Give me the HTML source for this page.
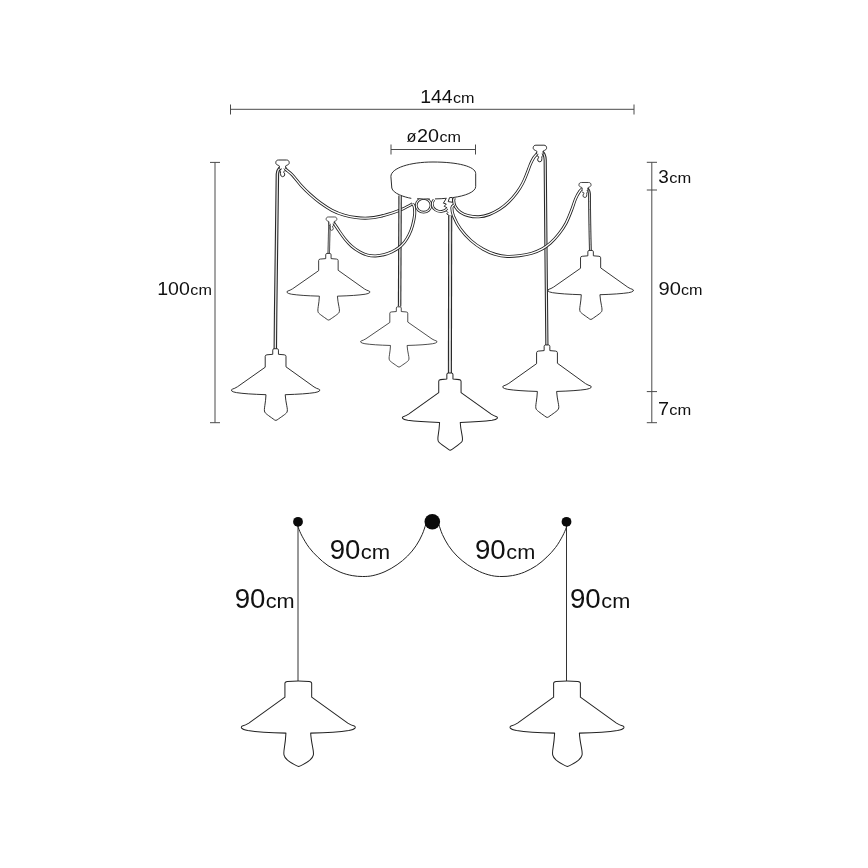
<!DOCTYPE html>
<html>
<head>
<meta charset="utf-8">
<title>Lamp dimensions</title>
<style>
html,body{margin:0;padding:0;background:#fff;}
body{width:868px;height:868px;overflow:hidden;font-family:"Liberation Sans",sans-serif;}
svg{display:block;position:absolute;left:0;top:0;will-change:transform;}
.dim{stroke:#4a4a4a;stroke-width:1;fill:none;}
.ln{stroke:#222;stroke-width:0.95;fill:#fff;stroke-linejoin:round;stroke-linecap:round;}
.co{stroke:#222;stroke-width:3.0;fill:none;stroke-linecap:butt;}
.co2{stroke:#222;stroke-width:2.7;fill:none;}
.ci2{stroke:#fff;stroke-width:1.1;fill:none;}
.cov{stroke:#2a2a2a;stroke-width:3.5;fill:none;}
.civ{stroke:#ececec;stroke-width:1.3;fill:none;}
.cot{stroke:#2a2a2a;stroke-width:2.8;fill:none;}
.cit{stroke:#e4e4e4;stroke-width:0.9;fill:none;}
.ci{stroke:#fff;stroke-width:1.3;fill:none;stroke-linecap:butt;}
.thin{stroke:#222;stroke-width:1;fill:none;}
text{font-family:"Liberation Sans",sans-serif;fill:#111;}
</style>
</head>
<body>
<svg width="868" height="868" viewBox="0 0 868 868">
<defs>
<!-- lamp body: socket top centre at 0,0 -->
<path id="lamp" d="M -10.6,12.4 L -10.6,1.6 Q -10.6,0.3 -8.6,0.15 Q 0,-0.5 8.6,0.15 Q 10.6,0.3 10.6,1.6 L 10.6,12.4 L 39.2,32.6 Q 42,34.3 43.8,34.7 Q 45.7,35.3 44.9,36.5 Q 44,37.6 40,38.3 Q 30,39.8 9.8,40.4 C 10,44 10.7,48 11.4,51.5 C 12,54.5 12.3,56 11.9,57.6 C 11.2,60.2 8,62.8 3.6,64.9 Q 1.4,66 0.3,66.3 Q -0.8,66 -3,64.9 C -7.4,62.8 -10.6,60.2 -11.3,57.6 C -11.7,56 -11.5,54.5 -11,51.5 C -10.4,48 -10,44 -9.8,40.4 Q -30,39.8 -40,38.3 Q -44,37.6 -44.9,36.5 Q -45.7,35.3 -43.8,34.7 Q -42,34.3 -39.2,32.6 Z"/>
<!-- lamp with small cap for upper drawing -->
<path id="lampc" d="M -10.6,12.4 L -10.6,1.8 Q -10.6,0.5 -8.8,0.3 L -2.9,-0.2 L -2.9,-4.4 Q -2.9,-5.6 -1.7,-5.8 L 1.7,-5.8 Q 2.9,-5.6 2.9,-4.4 L 2.9,-0.2 L 8.8,0.3 Q 10.6,0.5 10.6,1.8 L 10.6,12.4 L 39.2,32.6 Q 42,34.3 43.8,34.7 Q 45.7,35.3 44.9,36.5 Q 44,37.6 40,38.3 Q 30,39.8 9.8,40.4 C 10,44 10.7,48 11.4,51.5 C 12,54.5 12.3,56.5 11.6,58 C 10.8,59.6 5.4,63 1.6,65.7 Q 0.3,66.7 -1,65.8 C -4.8,63 -10.2,59.6 -11,58 C -11.7,56.5 -11.5,54.5 -11,51.5 C -10.4,48 -10,44 -9.8,40.4 Q -30,39.8 -40,38.3 Q -44,37.6 -44.9,36.5 Q -45.7,35.3 -43.8,34.7 Q -42,34.3 -39.2,32.6 Z"/>
<!-- ceiling hook: origin top centre -->
<g id="hook">
<path class="ln" style="stroke-width:0.95" d="M -3.3,8.7 L -3.1,6.3 C -3.1,5.6 -4.2,5.6 -5.2,5 C -6.4,4.4 -6.8,3.6 -6.7,2.6 C -6.6,1 -5.6,0.1 -4,0.1 L 4,0.1 C 5.6,0.1 6.6,1 6.7,2.6 C 6.8,3.6 6.4,4.4 5.2,5 C 4.2,5.6 3.1,5.6 3.1,6.3 L 3.3,8.7"/>
<path class="ln" style="fill:none;stroke-width:0.95" d="M -2.8,10.4 Q -1.3,11.6 -2,13.6 Q -2.3,16.5 0,16.8 Q 2.6,16.6 2.3,14 Q 0.9,12.6 1.3,11.6 Q 1.8,10.9 2.8,10.8"/>
</g>
<!-- cord centre-lines -->
<path id="c6" d="M 586.8,188.5 Q 589.3,190 589.5,194 C 589.6,215 590,235 590.4,251"/>
<path id="c1" d="M 281.2,167.2 Q 277.6,169.4 277.4,174 C 276.5,230 275.8,290 275.3,349"/>
<path id="c2" d="M 329.5,221 L 328.7,254"/>
<path id="c5" d="M 541.8,151.6 Q 545,154 545.2,160 C 545.6,220 546.4,290 546.9,345.5"/>
<path id="sL1" d="M 284.2,166.8 C 284.5,167.3 284.8,168.3 286.2,169.7 C 287.6,171.0 289.9,172.3 292.3,174.9 C 294.8,177.5 298.0,182.0 300.9,185.2 C 303.8,188.4 306.4,191.0 309.6,193.9 C 312.8,196.8 316.2,199.8 319.9,202.5 C 323.6,205.2 328.0,208.2 332.0,210.3 C 336.0,212.4 340.1,213.9 344.1,215.1 C 348.1,216.3 352.2,217.1 356.2,217.6 C 360.2,218.1 364.3,218.3 368.3,218.1 C 372.3,217.9 376.4,217.2 380.4,216.3 C 384.4,215.4 388.8,214.1 392.5,212.9 C 396.2,211.7 399.5,210.4 402.9,208.9 C 406.2,207.4 411.0,204.7 412.6,203.8"/>
<path id="sL2" d="M 333.0,221.8 C 333.2,222.1 333.2,222.2 334.2,223.6 C 335.2,225.0 337.1,228.0 338.8,230.5 C 340.5,233.0 342.5,236.0 344.6,238.6 C 346.7,241.2 349.0,243.9 351.5,246.1 C 354.0,248.3 356.9,250.3 359.6,251.8 C 362.3,253.3 364.9,254.4 367.6,255.1 C 370.3,255.8 373.0,256.0 375.7,255.9 C 378.4,255.8 381.1,255.4 383.8,254.7 C 386.5,254.0 389.3,253.0 391.8,251.8 C 394.3,250.7 396.6,249.4 398.7,247.8 C 400.8,246.2 402.8,244.3 404.5,242.1 C 406.2,239.9 407.8,237.4 409.1,234.6 C 410.5,231.8 411.7,228.6 412.6,225.3 C 413.5,222.0 414.3,218.1 414.6,215.0 C 414.9,211.9 414.6,208.8 414.3,206.9 C 414.0,205.0 412.9,204.3 412.6,203.8"/>
<path id="sR1" d="M 454.3,198.2 C 454.2,198.6 453.6,199.3 453.7,200.7 C 453.8,202.1 454.1,204.6 455.2,206.5 C 456.3,208.4 458.2,210.7 460.4,212.2 C 462.6,213.7 465.3,214.9 468.4,215.7 C 471.5,216.5 475.3,217.0 478.8,216.8 C 482.3,216.6 485.8,215.8 489.2,214.5 C 492.6,213.2 496.2,211.4 499.5,209.3 C 502.8,207.2 505.9,204.6 508.8,201.8 C 511.7,199.0 514.5,195.7 516.8,192.6 C 519.1,189.5 521.0,186.5 522.6,183.4 C 524.2,180.3 525.4,177.3 526.6,174.2 C 527.9,171.1 529.0,167.7 530.1,165.0 C 531.2,162.3 532.5,159.8 533.5,158.1 C 534.5,156.4 535.7,155.5 536.4,154.6 C 537.1,153.7 537.4,153.1 537.6,152.8"/>
<path id="sR2" d="M 454.2,204.8 C 453.8,205.3 452.0,205.7 451.9,207.6 C 451.8,209.5 452.2,212.7 453.6,216.3 C 455.1,219.9 457.7,225.2 460.6,229.2 C 463.5,233.2 467.2,237.2 470.9,240.5 C 474.6,243.8 479.0,246.8 483.0,249.1 C 487.0,251.4 491.1,253.1 495.1,254.3 C 499.1,255.5 503.2,256.2 507.2,256.4 C 511.2,256.6 515.3,256.2 519.3,255.7 C 523.3,255.2 527.6,254.5 531.4,253.4 C 535.1,252.3 538.6,250.8 541.8,249.1 C 545.0,247.4 547.5,245.7 550.4,243.1 C 553.3,240.5 556.5,236.9 559.1,233.6 C 561.7,230.3 564.0,226.9 566.0,223.2 C 568.0,219.4 569.6,215.1 571.2,211.1 C 572.8,207.1 574.1,202.3 575.5,199.0 C 576.9,195.7 578.6,192.9 579.8,191.2 C 581.0,189.5 582.1,189.0 582.6,188.6"/>
<path id="c3" d="M 400.1,195.5 L 399.6,306.5"/>
<path id="c4" d="M 450.2,215.6 L 449.9,373.2"/>
<path id="k1" d="M 416.2,205.3 a 7.4,6.9 0 1 0 14.8,0 a 7.4,6.9 0 1 0 -14.8,0"/>
<path id="k2" d="M 434,199.6 A 8.2,7.3 0 1 0 447.2,208.6"/>
</defs>

<!-- ===== dimension lines (top drawing) ===== -->
<g class="dim">
<path d="M230.5,109.3 H634 M230.5,104.5 V114.5 M634,104.5 V114.5"/>
<path d="M391,149.5 H475.5 M391,144.5 V154.5 M475.5,144.5 V154.5"/>
<path d="M215,162.4 V422.7 M210,162.4 H220 M210,422.7 H220"/>
<path d="M651.8,162.3 V422.7 M646.8,162.3 H657 M646.8,190 H657 M646.8,391.6 H657 M646.8,422.7 H657"/>
</g>

<!-- ===== labels (top drawing) ===== -->
<g id="labels-top">
<text x="420.24" y="102.7" font-size="18.2" textLength="32.41" lengthAdjust="spacingAndGlyphs">144</text>
<text x="452.91" y="102.7" font-size="14.3" textLength="21.55" lengthAdjust="spacingAndGlyphs">cm</text>
<text x="406.53" y="141.6" font-size="16.8" textLength="9.95" lengthAdjust="spacingAndGlyphs">ø</text>
<text x="417.01" y="141.6" font-size="18.2" textLength="21.97" lengthAdjust="spacingAndGlyphs">20</text>
<text x="439.41" y="141.6" font-size="14.3" textLength="21.55" lengthAdjust="spacingAndGlyphs">cm</text>
<text x="157.23" y="295.1" font-size="18.2" textLength="32.62" lengthAdjust="spacingAndGlyphs">100</text>
<text x="190.31" y="295.1" font-size="14.3" textLength="21.55" lengthAdjust="spacingAndGlyphs">cm</text>
<text x="658.39" y="182.6" font-size="18.2" textLength="10.54" lengthAdjust="spacingAndGlyphs">3</text>
<text x="669.30" y="182.6" font-size="14.3" textLength="21.98" lengthAdjust="spacingAndGlyphs">cm</text>
<text x="658.55" y="295.1" font-size="18.2" textLength="22.36" lengthAdjust="spacingAndGlyphs">90</text>
<text x="680.91" y="295.1" font-size="14.3" textLength="21.55" lengthAdjust="spacingAndGlyphs">cm</text>
<text x="658.06" y="415.3" font-size="18.2" textLength="11.06" lengthAdjust="spacingAndGlyphs">7</text>
<text x="669.30" y="415.3" font-size="14.3" textLength="21.98" lengthAdjust="spacingAndGlyphs">cm</text>
</g>

<!-- ===== top drawing ===== -->
<g id="top">
<!-- knot loops hanging under canopy (tops hidden by canopy) -->
<use href="#k1" class="co2"/><use href="#k1" class="ci2"/>
<use href="#k2" class="co2"/><use href="#k2" class="ci2"/>
<!-- canopy -->
<path fill="#fff" stroke="none" d="M 390.9,176.5 C 391,168 410,162 433,162 C 458,162 475.5,166.5 475.7,173.5 L 475.7,186.5 C 475.7,192 465,196 454,197.6 C 446,199 420,199.3 410.5,198.2 C 404,197 393,193.5 391.8,188 Z"/>
<path class="ln" style="fill:none" d="M 410.9,198.3 C 404,197 393,193.5 391.8,188 L 390.9,176.5 C 391,168 410,162 433,162 C 458,162 475.5,166.5 475.7,173.5 L 475.7,186.5 C 475.7,192 465,196 453.4,197.5"/>
<path class="ln" style="fill:none" d="M 417.6,198.7 Q 423,199.2 429.4,199 M 435.4,198.9 Q 441.5,198.8 446.2,198.3"/>

<!-- lamp 6 (upper right) drawn first: cord 5 passes in front -->
<use href="#c6" class="cot"/><use href="#c6" class="cit"/>
<use href="#lampc" class="ln" transform="translate(590.6,256) scale(0.95,0.958)"/>

<!-- vertical cords -->
<use href="#c1" class="cov"/><use href="#c1" class="civ"/>
<use href="#c2" class="cot" style="stroke-width:2.5;stroke:#444"/><use href="#c2" class="cit" style="stroke-width:0.8;stroke:#c8c8c8"/>
<use href="#c5" class="cov" style="stroke-width:3.2"/><use href="#c5" class="civ" style="stroke-width:1.1"/>

<!-- swags -->
<use href="#sL1" class="co"/><use href="#sL1" class="ci"/>
<use href="#c3" class="cov"/><use href="#c3" class="civ"/>
<use href="#sL2" class="co"/><use href="#sL2" class="ci"/>
<use href="#sR1" class="co"/><use href="#sR1" class="ci"/>
<use href="#sR2" class="co"/><use href="#sR2" class="ci"/>

<!-- cords from canopy -->
<use href="#c4" class="cov" style="stroke-width:4.1"/><use href="#c4" class="civ" style="stroke-width:1.9;stroke:#dcdcdc"/>

<!-- knot details -->
<path class="ln" style="fill:none" d="M 445.9,199 L 443.4,203.2 L 446.3,204 L 444.2,206.3 L 446.8,207.6 M 446.6,211.2 L 447.9,212.6 L 446.7,213.9 L 449,215.4 M 449.4,198 L 448.2,201.6 L 452.6,202.3 L 452.4,197.8 Z"/>

<!-- ceiling hooks -->
<g id="hooks">
<use href="#hook" transform="translate(282.5,159.9)"/>
<use href="#hook" transform="translate(331.5,216.9) scale(0.8)"/>
<use href="#hook" transform="translate(539.9,145.1) scale(-1,1)"/>
<use href="#hook" transform="translate(585,182.4) scale(-0.9,0.9)"/>
</g>

<!-- lamps -->
<use href="#lampc" class="ln" transform="translate(328.4,258.8) scale(0.92,0.925)"/>
<use href="#lampc" class="ln" transform="translate(398.8,311.7) scale(0.847,0.836)"/>
<use href="#lampc" class="ln" transform="translate(275.6,354.5) scale(0.98,0.995)"/>
<use href="#lampc" class="ln" transform="translate(547,350.8) scale(0.982,1.006)"/>
<use href="#lampc" class="ln" transform="translate(449.9,379.3) scale(1.053,1.07)"/>
</g>

<!-- ===== bottom drawing ===== -->
<g id="bottom">
<path class="thin" style="stroke:#333;stroke-width:1" d="M298,522 V681.2 M566.5,522 V681.2"/>
<path class="thin" d="M 298.0,524.5 C 298.1,525.0 297.6,525.5 298.3,527.5 C 299.0,529.5 300.3,532.9 302.1,536.2 C 303.9,539.5 306.4,544.0 309.0,547.4 C 311.6,550.8 314.4,553.9 317.6,556.9 C 320.8,559.9 324.2,563.1 328.0,565.6 C 331.8,568.1 336.1,570.4 340.1,572.1 C 344.1,573.8 348.4,574.9 352.2,575.6 C 355.9,576.3 359.2,576.5 362.6,576.5 C 366.1,576.5 369.2,576.4 372.9,575.6 C 376.6,574.8 381.0,573.4 385.0,571.6 C 389.0,569.8 393.4,567.3 397.1,564.7 C 400.9,562.1 404.3,559.3 407.5,556.1 C 410.7,552.9 413.7,549.3 416.1,545.7 C 418.6,542.1 420.6,538.0 422.2,534.5 C 423.8,531.0 425.0,526.6 425.6,525.0"/>
<path class="thin" d="M 439.0,525.0 C 439.6,526.6 440.8,531.0 442.4,534.5 C 444.0,538.0 446.1,542.1 448.5,545.7 C 450.9,549.3 453.9,552.9 457.1,556.1 C 460.3,559.3 463.8,562.1 467.5,564.7 C 471.2,567.3 475.6,569.8 479.6,571.6 C 483.6,573.4 488.0,574.8 491.7,575.6 C 495.4,576.4 498.6,576.5 502.0,576.5 C 505.4,576.5 508.7,576.3 512.4,575.6 C 516.2,574.9 520.5,573.8 524.5,572.1 C 528.5,570.4 532.9,568.1 536.6,565.6 C 540.4,563.1 543.8,559.9 547.0,556.9 C 550.2,553.9 553.0,550.8 555.6,547.4 C 558.2,544.0 560.7,539.5 562.5,536.2 C 564.3,532.9 565.6,529.5 566.3,527.5 C 567.0,525.5 566.5,525.0 566.6,524.5"/>
<circle cx="298" cy="521.8" r="4.9" fill="#0a0a0a"/>
<circle cx="566.5" cy="521.8" r="4.9" fill="#0a0a0a"/>
<circle cx="432.3" cy="521.8" r="7.8" fill="#0a0a0a"/>
<use href="#lamp" class="ln" transform="translate(298.3,681.2) scale(1.262,1.285)" style="stroke-width:0.8"/>
<use href="#lamp" class="ln" transform="translate(567,681.2) scale(1.262,1.285)" style="stroke-width:0.8"/>
<g id="labels-bottom">
<text x="329.74" y="558.6" font-size="27.0" textLength="30.66" lengthAdjust="spacingAndGlyphs">90</text>
<text x="360.76" y="558.6" font-size="20.4" textLength="29.38" lengthAdjust="spacingAndGlyphs">cm</text>
<text x="474.98" y="558.6" font-size="27.0" textLength="30.82" lengthAdjust="spacingAndGlyphs">90</text>
<text x="506.38" y="558.6" font-size="20.4" textLength="28.95" lengthAdjust="spacingAndGlyphs">cm</text>
<text x="234.74" y="607.8" font-size="27.0" textLength="30.77" lengthAdjust="spacingAndGlyphs">90</text>
<text x="265.78" y="607.8" font-size="20.4" textLength="28.95" lengthAdjust="spacingAndGlyphs">cm</text>
<text x="569.98" y="607.6" font-size="27.0" textLength="30.82" lengthAdjust="spacingAndGlyphs">90</text>
<text x="601.38" y="607.6" font-size="20.4" textLength="28.95" lengthAdjust="spacingAndGlyphs">cm</text>
</g>
</g>
</svg>
</body>
</html>
